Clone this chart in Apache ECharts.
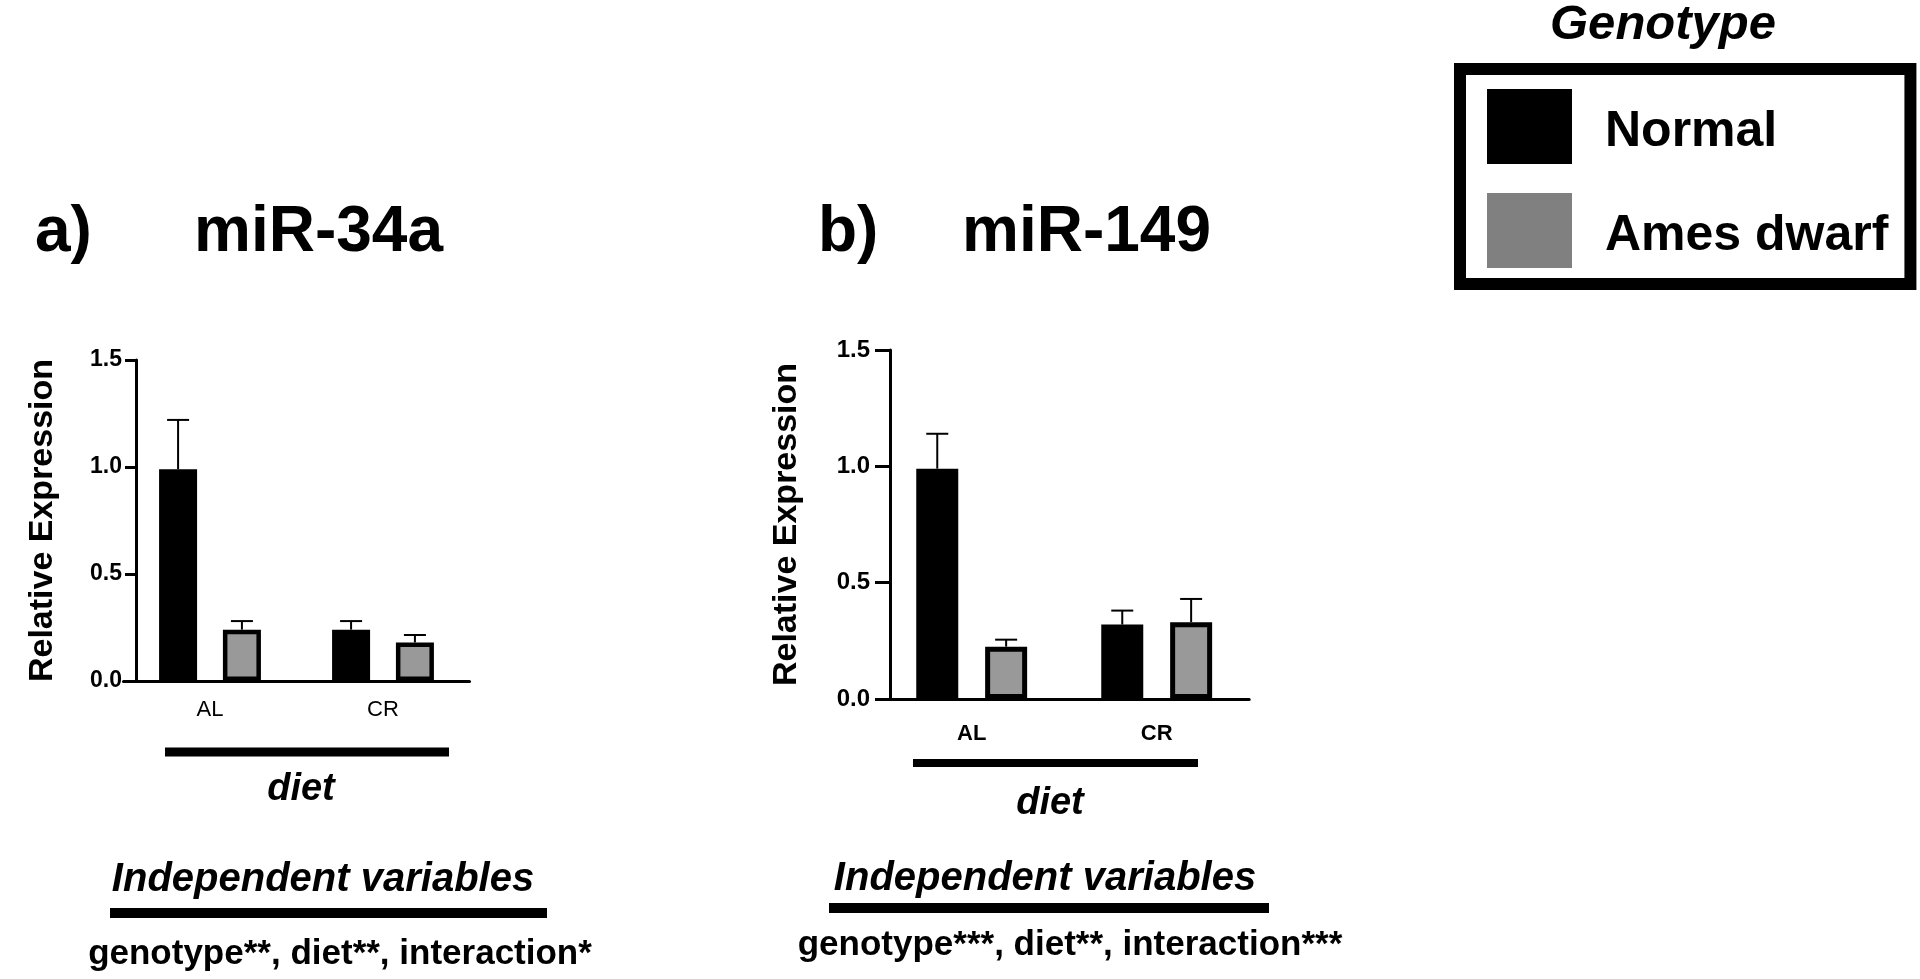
<!DOCTYPE html>
<html>
<head>
<meta charset="utf-8">
<script src="https://cdn.jsdelivr.net/npm/echarts@6/dist/echarts.min.js"></script>
<style>
  html, body { margin: 0; padding: 0; background: #fff; }
  #container { width: 1920px; height: 979px; }
</style>
</head>
<body>
<div id="container"></div>
<script>
var diets = ['AL', 'CR'];
var genotypes = ['Normal', 'Ames dwarf'];
var yTicks = [0, 0.5, 1.0, 1.5];

// miR-34a (panel a)
var mir34aNormal = [0.99, 0.24];
var mir34aNormalErr = [0.23, 0.04];
var mir34aAmes = [0.24, 0.18];
var mir34aAmesErr = [0.04, 0.035];

// miR-149 (panel b)
var mir149Normal = [0.99, 0.32];
var mir149NormalErr = [0.15, 0.06];
var mir149Ames = [0.225, 0.33];
var mir149AmesErr = [0.03, 0.10];

var FONT = '"Liberation Sans", Arial, sans-serif';

var dom = document.getElementById('container');
var myChart = echarts.init(dom, null, { renderer: 'canvas' });

// bar layout per panel
var panelA = { barWidth: 38, barGap: 0.68, border: 4.5 };
var panelB = { barWidth: 42, barGap: 0.64, border: 5 };

function errData(means, errs) {
  return means.map(function (m, i) { return [i, m, m + errs[i]]; });
}

// error bar drawn above the bar, shifted to the bar's slot
function errorBar(side, layout) {
  var dx = side * layout.barWidth * (1 + layout.barGap) / 2;
  return function (params, api) {
    var base = api.coord([api.value(0), api.value(1)]);
    var top = api.coord([api.value(0), api.value(2)]);
    var x = base[0] + dx;
    var style = { stroke: '#000', lineWidth: 2 };
    return {
      type: 'group',
      children: [
        { type: 'line', shape: { x1: x, y1: base[1], x2: x, y2: top[1] }, style: style },
        { type: 'line', shape: { x1: x - 11, y1: top[1], x2: x + 11, y2: top[1] }, style: style }
      ]
    };
  };
}

function barSeries(name, data, idx, layout, fill) {
  return {
    name: name,
    type: 'bar',
    xAxisIndex: idx,
    yAxisIndex: idx,
    data: data,
    barWidth: layout.barWidth,
    barGap: (layout.barGap * 100) + '%',
    itemStyle: { color: fill, borderColor: '#000', borderWidth: layout.border },
    z: 3
  };
}

function errSeries(data, errs, idx, side, layout) {
  return {
    type: 'custom',
    xAxisIndex: idx,
    yAxisIndex: idx,
    data: errData(data, errs),
    renderItem: errorBar(side, layout),
    z: 2,
    silent: true
  };
}

function xAxisCfg(idx, tickLen, labelFont) {
  return {
    type: 'category',
    gridIndex: idx,
    data: diets,
    axisLine: { lineStyle: { color: '#000', width: 3 } },
    axisTick: { alignWithLabel: true, length: tickLen, lineStyle: { color: '#000', width: 3 } },
    axisLabel: labelFont
  };
}

function yAxisCfg(idx, offset, tickLen, nameGap, labelFont) {
  return {
    type: 'value',
    gridIndex: idx,
    min: yTicks[0],
    max: yTicks[yTicks.length - 1],
    interval: 0.5,
    offset: offset,
    name: 'Relative Expression',
    nameLocation: 'middle',
    nameGap: nameGap,
    nameTextStyle: { fontFamily: FONT, fontSize: 34, fontWeight: 'bold', color: '#000' },
    axisLine: { show: true, lineStyle: { color: '#000', width: 3 } },
    axisTick: { show: true, length: tickLen, lineStyle: { color: '#000', width: 3 } },
    axisLabel: labelFont,
    splitLine: { show: false }
  };
}

function txt(text, x, y, size, style, align) {
  return {
    type: 'text',
    x: x,
    y: y,
    style: {
      text: text,
      font: style + ' ' + size + 'px ' + FONT,
      fill: '#000',
      textAlign: align || 'center',
      textVerticalAlign: 'middle'
    }
  };
}

function bar(x1, x2, yc, th) {
  return { type: 'rect', shape: { x: x1, y: yc - th / 2, width: x2 - x1, height: th }, style: { fill: '#000' } };
}

var fmt = function (v) { return v.toFixed(1); };

var option = {
  backgroundColor: '#fff',
  animation: false,
  grid: [
    { left: 123.5, top: 360, width: 346, height: 321 },
    { left: 879.2, top: 350, width: 370, height: 349 }
  ],
  legend: {
    data: [
      { name: genotypes[0], itemStyle: { color: '#000', borderWidth: 0 } },
      { name: genotypes[1], itemStyle: { color: '#808080', borderWidth: 0 } }
    ],
    orient: 'vertical',
    left: 1460,
    top: 69,
    icon: 'rect',
    itemWidth: 85,
    itemHeight: 75,
    itemGap: 29,
    padding: [20, 22, 16, 27],
    borderColor: '#000',
    borderWidth: 12,
    selectedMode: false,
    formatter: function (name) { return '{t|' + name + '}'; },
    textStyle: {
      fontFamily: FONT, fontSize: 50, fontWeight: 'bold', color: '#000',
      rich: {
        t: { fontFamily: FONT, fontSize: 50, fontWeight: 'bold', color: '#000', lineHeight: 52, padding: [11, 0, 0, 28] }
      }
    }
  },
  xAxis: [
    xAxisCfg(0, 12, { fontFamily: FONT, fontSize: 22, color: '#000', margin: 18 }),
    xAxisCfg(1, 14, { fontFamily: FONT, fontSize: 22, fontWeight: 'bold', color: '#000', margin: 24 })
  ],
  yAxis: [
    yAxisCfg(0, -12.5, 11, 76, {
      fontFamily: FONT, fontSize: 23, fontWeight: 'bold', color: '#000', margin: 14, formatter: fmt
    }),
    yAxisCfg(1, -10.8, 15, 86, {
      fontFamily: FONT, fontSize: 24, fontWeight: 'bold', color: '#000', margin: 20, formatter: fmt
    })
  ],
  series: [
    barSeries(genotypes[0], mir34aNormal, 0, panelA, '#000'),
    barSeries(genotypes[1], mir34aAmes, 0, panelA, '#999'),
    errSeries(mir34aNormal, mir34aNormalErr, 0, -1, panelA),
    errSeries(mir34aAmes, mir34aAmesErr, 0, 1, panelA),
    barSeries(genotypes[0], mir149Normal, 1, panelB, '#000'),
    barSeries(genotypes[1], mir149Ames, 1, panelB, '#999'),
    errSeries(mir149Normal, mir149NormalErr, 1, -1, panelB),
    errSeries(mir149Ames, mir149AmesErr, 1, 1, panelB)
  ],
  graphic: [
    txt('a)', 35, 233, 64, 'bold', 'left'),
    txt('miR-34a', 194, 233, 64, 'bold', 'left'),
    txt('b)', 818, 233, 64, 'bold', 'left'),
    txt('miR-149', 962, 233, 64, 'bold', 'left'),
    txt('Genotype', 1663, 25, 49, 'italic bold'),
    bar(165, 449, 752, 9),
    txt('diet', 301, 790, 38, 'italic bold'),
    bar(913, 1198, 763, 8),
    txt('diet', 1050, 804, 38, 'italic bold'),
    txt('Independent variables', 323, 880, 40, 'italic bold'),
    bar(110, 547, 913, 10),
    txt('genotype**, diet**, interaction*', 340, 954, 35, 'bold'),
    txt('Independent variables', 1045, 879, 40, 'italic bold'),
    bar(829, 1269, 908, 10),
    txt('genotype***, diet**, interaction***', 1070, 945, 35, 'bold')
  ]
};

if (option && typeof option === 'object') {
  myChart.setOption(option);
}

window.addEventListener('resize', myChart.resize);
</script>
</body>
</html>
